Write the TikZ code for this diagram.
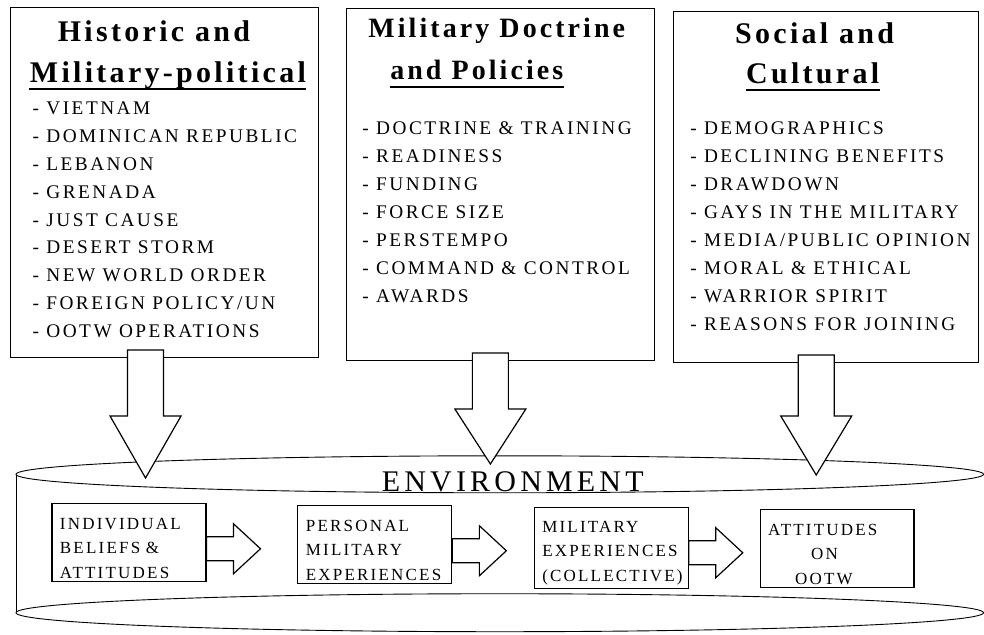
\documentclass[tikz,border=0pt]{standalone}
\usepackage{fontspec}
\setmainfont{Liberation Serif}
\newfontfamily\listfont[LetterSpace=13]{Liberation Serif}
\newfontfamily\headfont[LetterSpace=11]{Liberation Serif}
\newfontfamily\envfont[LetterSpace=14]{Liberation Serif}

% hollow block arrows: start point, shaft length, head length
\newcommand{\bigdown}[3]{\draw[fill=white] #1 ++(-18,0) -- ++(0,#2) -- ++(-17.5,0) -- ++(35.5,#3) -- ++(35.5,-#3) -- ++(-17.5,0) -- ++(0,-#2) -- cycle;}
\newcommand{\rblock}[1]{\draw[fill=white] #1 ++(0,-12) -- ++(27,0) -- ++(0,-13) -- ++(27,25) -- ++(-27,25) -- ++(0,-13) -- ++(-27,0) -- cycle;}

\begin{document}
\begin{tikzpicture}[x=1pt,y=-1pt,line width=1.2pt,
    panel/.style={draw,anchor=north west,inner sep=0},
    head/.style={font=\headfont\bfseries\fontsize{#1}{#1}\selectfont,inner sep=0,anchor=base},
    entry/.style={font=\listfont\fontsize{19.3}{22}\selectfont,inner sep=0,anchor=base west},
    stage/.style={draw,minimum width=154pt,minimum height=78pt,inner xsep=8pt,text width=138pt,align=left,
      font=\listfont\fontsize{17}{24.5}\selectfont,execute at begin node={\rule{0pt}{22pt}}}]
  \fill[white] (0,0) rectangle (984,635);

  \node[panel,minimum width=308pt,minimum height=350pt] (hist) at (10,7) {};
  \node[panel,minimum width=308pt,minimum height=352pt] (doct) at (346,8) {};
  \node[panel,minimum width=305pt,minimum height=351pt] (soc) at (673,11) {};

  \node[head=30] (hist1) at (154,42) {Historic and};
  \node[head=30] (hist2) at (168,83) {Military-political};
  \node[head=28] (doct1) at (497,38) {Military Doctrine};
  \node[head=28] (doct2) at (477,80) {and Policies};
  \node[head=30] (soc1) at (815,44) {Social and};
  \node[head=30] (soc2) at (813,84) {Cultural};
  \foreach \n/\d in {hist2/6.5,doct2/7,soc2/6}
    \draw[line width=2pt] ([yshift=-\d pt]\n.base west) -- ([yshift=-\d pt]\n.base east);

  \foreach \t [count=\i] in {VIETNAM,DOMINICAN REPUBLIC,LEBANON,GRENADA,JUST CAUSE,
      DESERT STORM,NEW WORLD ORDER,FOREIGN POLICY/UN,OOTW OPERATIONS}
    \node[entry] (hist-\i) at (32,{115+27.8*(\i-1)}) {- \t};
  \foreach \t [count=\i] in {DOCTRINE \& TRAINING,READINESS,FUNDING,FORCE SIZE,
      PERSTEMPO,COMMAND \& CONTROL,AWARDS}
    \node[entry] (doct-\i) at (362,{135+28*(\i-1)}) {- \t};
  \foreach \t [count=\i] in {DEMOGRAPHICS,DECLINING BENEFITS,DRAWDOWN,GAYS IN THE MILITARY,
      MEDIA/PUBLIC OPINION,MORAL \& ETHICAL,WARRIOR SPIRIT,REASONS FOR JOINING}
    \node[entry] (soc-\i) at (690,{135+28*(\i-1)}) {- \t};

  % environment
  \draw[line width=0.9pt] (500,474.5) ellipse [x radius=484,y radius=18.5];
  \draw[line width=0.9pt] (500,613) ellipse [x radius=484,y radius=19];
  \draw[line width=0.9pt] (16,475) -- (16,612);
  \node[font=\envfont\fontsize{30}{30}\selectfont,inner sep=0,anchor=base] (env) at (513,492) {ENVIRONMENT};

  \bigdown{([xshift=-19pt,yshift=8pt]hist.south)}{66}{62}
  \bigdown{([xshift=-10pt,yshift=8pt]doct.south)}{56}{55}
  \bigdown{([xshift=-9.5pt,yshift=8pt]soc.south)}{61}{59}

  \node[stage] (ind) at (129,543) {INDIVIDUAL\\BELIEFS \&\\ATTITUDES};
  \node[stage] (pers) at (375,545) {PERSONAL\\MILITARY\\EXPERIENCES};
  \node[stage] (coll) at (611.5,548) {MILITARY\\EXPERIENCES\\(COLLECTIVE)};
  \node[stage] (att) at (837.5,549) {ATTITUDES\\\hspace*{43pt}ON\\\hspace*{27pt}OOTW};

  \rblock{([yshift=-6pt]ind.east)}
  \rblock{([yshift=-6pt]pers.east)}
  \rblock{([yshift=-5pt]coll.east)}
\end{tikzpicture}
\end{document}
